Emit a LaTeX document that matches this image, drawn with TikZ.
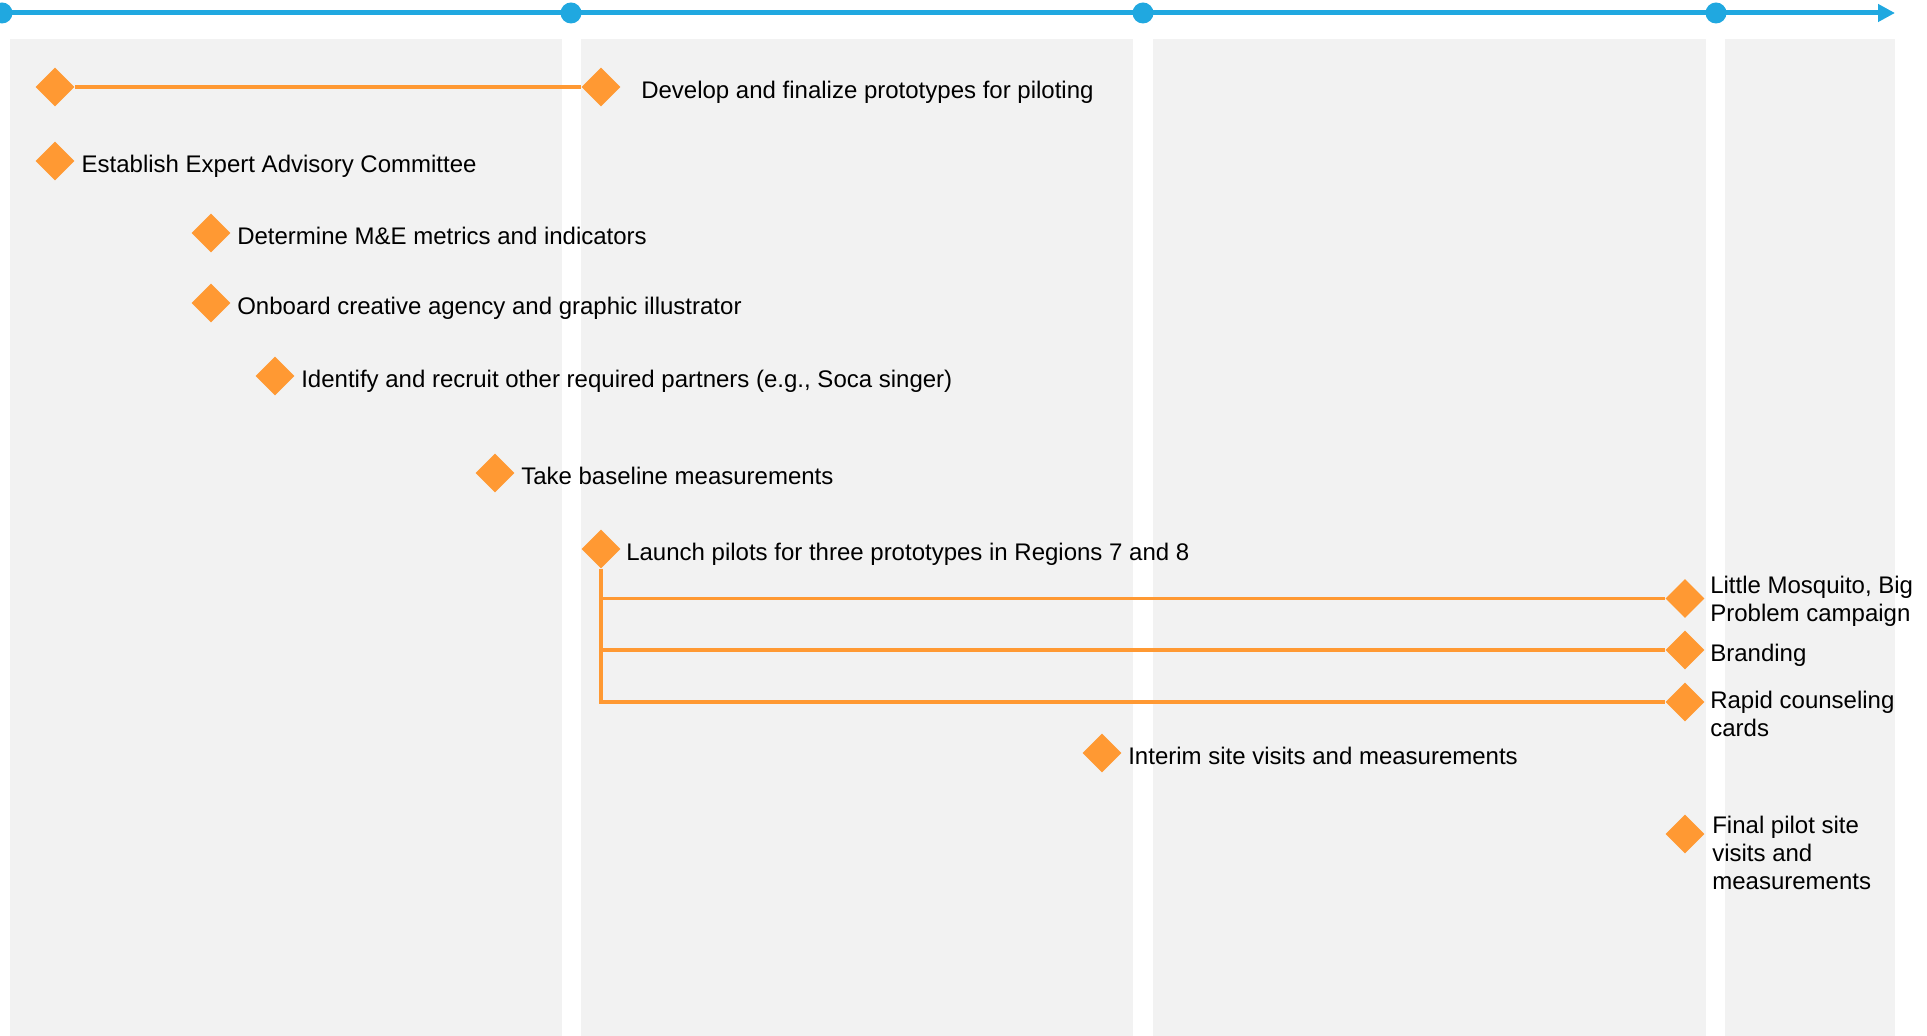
\documentclass[tikz,border=0pt]{standalone}
\usepackage{fontspec}
\setmainfont{Liberation Sans}
\usetikzlibrary{arrows.meta,positioning,shapes.geometric,calc}
\definecolor{tlblue}{RGB}{32,168,224}
\definecolor{msorange}{RGB}{255,153,51}
\definecolor{colgray}{RGB}{242,242,242}

\begin{document}
\begin{tikzpicture}[
    x=0.5pt, y=-0.5pt,
    ms/.style={diamond,fill=msorange,inner sep=0pt,minimum size=19.5pt},
    dot/.style={circle,fill=tlblue,inner sep=0pt,minimum size=10.5pt},
    lbl/.style={font=\fontsize{12}{14}\selectfont,inner sep=0pt,text height=11.6pt,text depth=0pt},
    mlbl/.style={font=\fontsize{12}{14}\selectfont,inner sep=0pt,align=left},
    link/.style={draw=msorange,line width=1.75pt},
    arrow/.style={draw=tlblue,line width=2.5pt,-{Triangle[length=8.5pt,width=8.5pt]}}
]
    \useasboundingbox (0,0) rectangle (1927,1036);

    % Phase columns
    \foreach \l/\r in {10/562,581/1133,1153/1706,1725/1895} {
        \fill[colgray] (\l,39) rectangle (\r,1036);
    }

    % Timeline
    \coordinate (tend) at (1895,13);
    \foreach \i/\x in {0/2,1/571,2/1143,3/1716} { \node[dot] (t\i) at (\x,13) {}; }
    \draw[arrow] (t0.center) -- (tend);

    % Milestones
    \node[ms] (start) at (55,87) {};
    \node[ms] (dev) at (601,87) {};
    \node[lbl,right=10pt of dev] {Develop and finalize prototypes for piloting};
    \draw[link] (start) -- (dev);

    \node[ms] (est) at (55,161) {};
    \node[lbl,right=3.2pt of est] {Establish Expert Advisory Committee};

    \node[ms] (det) at (211,233) {};
    \node[lbl,right=3pt of det] {Determine M\&E metrics and indicators};

    \node[ms] (onb) at (211,303) {};
    \node[lbl,right=3pt of onb] {Onboard creative agency and graphic illustrator};

    \node[ms] (idf) at (275,376) {};
    \node[lbl,right=3pt of idf] {Identify and recruit other required partners (e.g., Soca singer)};

    \node[ms] (base) at (495,473) {};
    \node[lbl,right=3pt of base] {Take baseline measurements};

    % Pilot launch and its three prototypes
    \node[ms] (launch) at (601,549) {};
    \node[lbl,right=2.5pt of launch] {Launch pilots for three prototypes in Regions 7 and 8};

    \node[ms] (camp) at (1685,598.5) {};
    \node[mlbl,right=2.5pt of camp,yshift=-1.5pt] {Little Mosquito, Big\\Problem campaign};
    \node[ms] (brand) at (1685,650) {};
    \node[lbl,right=2.5pt of brand] {Branding};
    \node[ms] (cards) at (1685,702) {};
    \node[mlbl,anchor=north west] at ($(cards.east)+(5,-11)$) {Rapid counseling\\cards};

    \draw[link] (launch.south) |- (camp.west);
    \draw[link] (launch.south) |- (brand.west);
    \draw[link] (launch.south) |- (cards.west);

    \node[ms] (interim) at (1102,753) {};
    \node[lbl,right=3pt of interim] {Interim site visits and measurements};

    \node[ms] (final) at (1685,834) {};
    \node[mlbl,anchor=north west] at ($(final.east)+(7,-18)$) {Final pilot site\\visits and\\measurements};
\end{tikzpicture}
\end{document}
